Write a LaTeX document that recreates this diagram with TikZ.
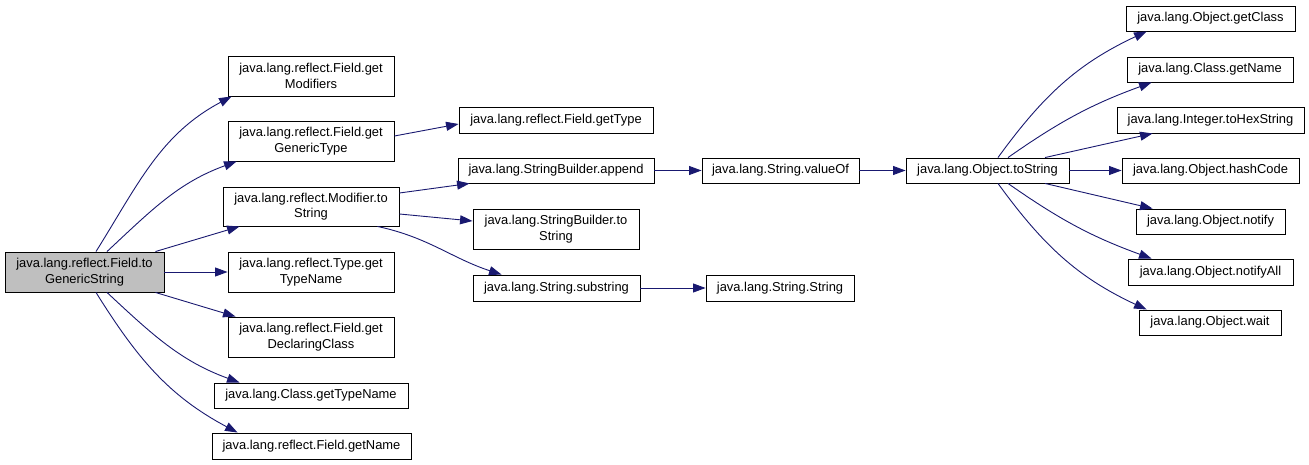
\documentclass[tikz,border=0pt]{standalone}
\usepackage{fontspec}
\setmainfont{Liberation Sans}
\usetikzlibrary{arrows.meta}
\definecolor{edgecol}{HTML}{191970}
\definecolor{rootfill}{HTML}{BFBFBF}
\begin{document}
\begin{tikzpicture}[x=1pt,y=-1pt,
  box/.style={draw=black,line width=0.9pt,fill=white,inner sep=0pt,align=center,
    font=\fontsize{12.9}{15.5}\selectfont},
  conn/.style={draw=edgecol,line width=0.9pt,-{Triangle[length=12.5pt,width=9pt]}}]
\useasboundingbox (0,0) rectangle (1309,465);
% left column
\node[box,fill=rootfill,minimum width=159pt,minimum height=40pt] (root) at (84.5,272) {java.lang.reflect.Field.to\\GenericString};
\node[box,minimum width=166pt,minimum height=40pt] (gm) at (311,76) {java.lang.reflect.Field.get\\Modifiers};
\node[box,minimum width=166pt,minimum height=40pt] (ggt) at (311,141) {java.lang.reflect.Field.get\\GenericType};
\node[box,minimum width=176pt,minimum height=39pt] (mts) at (311,206.5) {java.lang.reflect.Modifier.to\\String};
\node[box,minimum width=166pt,minimum height=40pt] (tgtn) at (311,272) {java.lang.reflect.Type.get\\TypeName};
\node[box,minimum width=166pt,minimum height=40pt] (gdc) at (311,337) {java.lang.reflect.Field.get\\DeclaringClass};
\node[box,minimum width=194pt,minimum height=25pt] (cgtn) at (311,395.5) {java.lang.Class.getTypeName};
\node[box,minimum width=199pt,minimum height=26pt] (fgn) at (311.5,446) {java.lang.reflect.Field.getName};
% middle
\node[box,minimum width=194pt,minimum height=26pt] (gt) at (556,120) {java.lang.reflect.Field.getType};
\node[box,minimum width=196pt,minimum height=25pt] (sba) at (556,170.5) {java.lang.StringBuilder.append};
\node[box,minimum width=166pt,minimum height=40pt] (sbts) at (556,229) {java.lang.StringBuilder.to\\String};
\node[box,minimum width=167pt,minimum height=26pt] (ss) at (556.5,288) {java.lang.String.substring};
\node[box,minimum width=157pt,minimum height=25pt] (vo) at (780.5,170.5) {java.lang.String.valueOf};
\node[box,minimum width=148pt,minimum height=26pt] (sS) at (780,288) {java.lang.String.String};
\node[box,minimum width=163pt,minimum height=25pt] (ots) at (987.5,170.5) {java.lang.Object.toString};
% right column
\node[box,minimum width=169pt,minimum height=25pt] (gc) at (1210.5,18.5) {java.lang.Object.getClass};
\node[box,minimum width=166pt,minimum height=25pt] (cgn) at (1210,69.5) {java.lang.Class.getName};
\node[box,minimum width=187pt,minimum height=26pt] (ihs) at (1210.5,120) {java.lang.Integer.toHexString};
\node[box,minimum width=177pt,minimum height=25pt] (hc) at (1210.5,170.5) {java.lang.Object.hashCode};
\node[box,minimum width=149pt,minimum height=25pt] (nt) at (1210.5,221.5) {java.lang.Object.notify};
\node[box,minimum width=165pt,minimum height=26pt] (na) at (1210.5,272) {java.lang.Object.notifyAll};
\node[box,minimum width=142pt,minimum height=25pt] (wt) at (1210,322.5) {java.lang.Object.wait};
% edges from root
\draw[conn] ([xshift=11.5pt]root.north) to[out=58,in=208] ([xshift=4pt]gm.south west);
\draw[conn] ([xshift=22.5pt]root.north) to[out=43,in=200] ([xshift=9pt]ggt.south west);
\draw[conn] ([xshift=-9pt]root.north east) -- ([xshift=17pt]mts.south west);
\draw[conn] (root.east) -- (tgtn.west);
\draw[conn] ([xshift=-9pt]root.south east) -- ([xshift=8pt]gdc.north west);
\draw[conn] ([xshift=22.5pt]root.south) to[out=-43,in=160] ([xshift=26pt]cgtn.north west);
\draw[conn] ([xshift=11.5pt]root.south) to[out=-58,in=152] ([xshift=26pt]fgn.north west);
% middle edges
\draw[conn] ([yshift=5pt]ggt.east) -- ([yshift=-4pt]gt.west);
\draw[conn] ([yshift=13.5pt]mts.east) -- ([xshift=12pt]sba.south west);
\draw[conn] ([yshift=-7.5pt]mts.east) -- ([yshift=8pt]sbts.west);
\draw[conn] ([xshift=-22pt]mts.south east) to[out=-12,in=162] ([xshift=29pt]ss.north west);
\draw[conn] (sba.east) -- (vo.west);
\draw[conn] (ss.east) -- (sS.west);
\draw[conn] (vo.east) -- (ots.west);
% right edges
\draw[conn] ([xshift=10.5pt]ots.north) to[out=54,in=205] ([xshift=21pt]gc.south west);
\draw[conn] ([xshift=20.5pt]ots.north) to[out=35,in=200] ([xshift=25pt]cgn.south west);
\draw[conn] ([xshift=57.5pt]ots.north) -- ([xshift=36pt]ihs.south west);
\draw[conn] (ots.east) -- (hc.west);
\draw[conn] ([xshift=57.5pt]ots.south) -- ([xshift=17pt]nt.north west);
\draw[conn] ([xshift=20.5pt]ots.south) to[out=-35,in=160] ([xshift=24pt]na.north west);
\draw[conn] ([xshift=10.5pt]ots.south) to[out=-54,in=155] ([xshift=8pt]wt.north west);
\end{tikzpicture}
\end{document}
